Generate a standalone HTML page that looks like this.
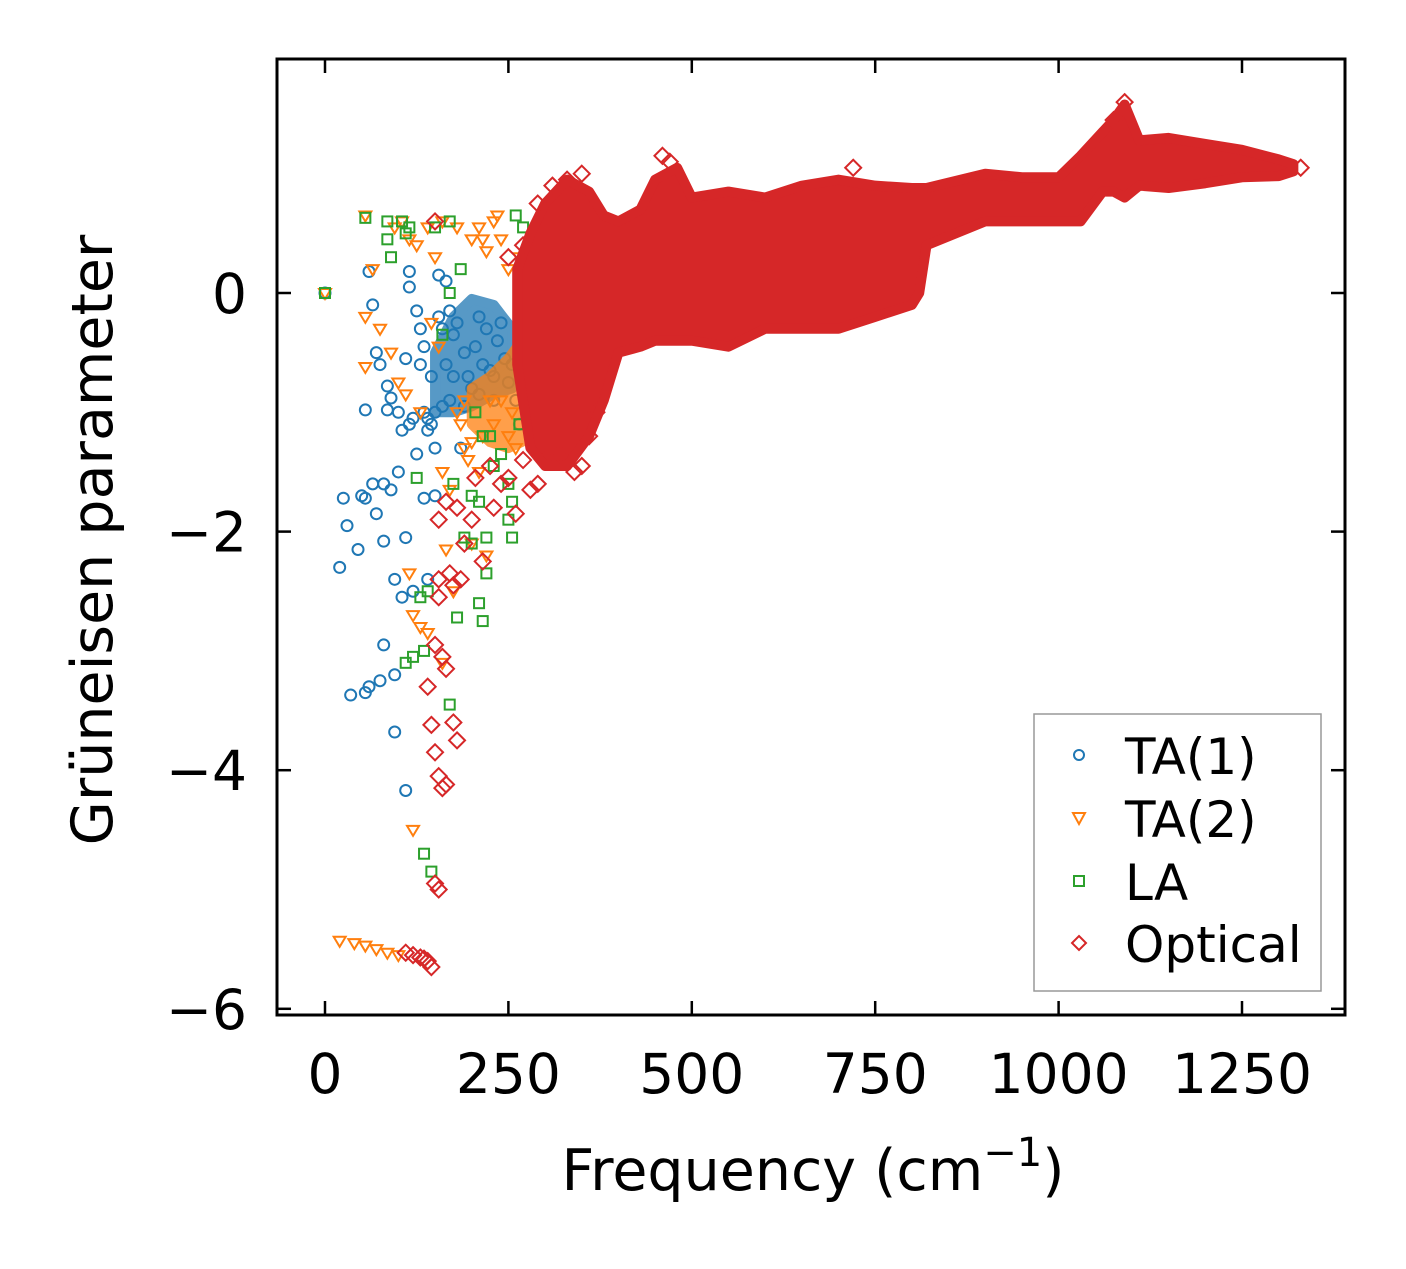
<!DOCTYPE html>
<html><head><meta charset="utf-8"><style>
html,body{margin:0;padding:0;background:#fff;}
svg text{font-family:"DejaVu Sans","Liberation Sans",sans-serif;fill:#000;}
</style></head><body>
<svg id="chart" width="1406" height="1264" viewBox="0 0 1406 1264">
<g id="marks"></g>
<rect x="277" y="59" width="1068" height="956" fill="none" stroke="#000" stroke-width="3"/>
<g id="axes"></g>
<text x="813" y="1190" font-size="57" text-anchor="middle">Frequency (cm<tspan dy="-24" font-size="40">−1</tspan><tspan dy="24">)</tspan></text>
<text transform="translate(112,540) rotate(-90)" font-size="57" text-anchor="middle">Grüneisen parameter</text>
<g>
<rect x="1034" y="714" width="287" height="277" fill="#fff" stroke="#999" stroke-width="1.5"/>
<circle cx="1079" cy="755" r="5" fill="none" stroke="#1f77b4" stroke-width="2"/>
<text x="1125" y="774" font-size="50">TA(1)</text>
<path d="M1073,813 L1085,813 L1079,824 Z" fill="none" stroke="#ff7f0e" stroke-width="2"/>
<text x="1125" y="837" font-size="50">TA(2)</text>
<rect x="1074" y="876" width="10" height="10" fill="none" stroke="#2ca02c" stroke-width="2"/>
<text x="1125" y="900" font-size="50">LA</text>
<path d="M1079,936 L1086,943 L1079,950 L1072,943 Z" fill="none" stroke="#d62728" stroke-width="2"/>
<text x="1125" y="962" font-size="50">Optical</text>
</g>
</svg>
<script>
const xTicks=[0,250,500,750,1000,1250];
const yTicks=[0,-2,-4,-6];
const yTickLabels=["0","−2","−4","−6"];
const ta1=[[0,0],[20,-2.3],[25,-1.72],[30,-1.95],[35,-3.37],[45,-2.15],[50,-1.7],[55,-3.35],[55,-1.72],[55,-0.98],[60,0.18],[60,-3.3],[65,-0.1],[65,-1.6],[70,-0.5],[70,-1.85],[75,-3.25],[75,-0.6],[80,-1.6],[80,-2.08],[80,-2.95],[85,-0.78],[85,-0.98],[90,-0.88],[90,-1.65],[95,-3.2],[95,-2.4],[95,-3.68],[100,-1.5],[100,-1.0],[105,-1.15],[105,-2.55],[110,-4.17],[110,-2.05],[110,-0.55],[115,0.18],[115,0.05],[115,-1.1],[120,-1.05],[120,-2.5],[125,-0.15],[125,-1.35],[130,-0.3],[130,-0.6],[135,-1.72],[135,-0.45],[140,-2.4],[140,-1.05],[145,-0.7],[150,-1.3],[150,-1.7],[155,0.15],[160,-0.95],[160,-0.3],[165,-0.6],[170,-0.15],[175,-0.7],[180,-0.25],[185,-1.3],[190,-0.5],[195,-0.7],[200,-0.8],[205,-0.45],[210,-0.2],[215,-0.6],[220,-0.3],[225,-0.65],[230,-0.7],[235,-0.4],[240,-0.25],[245,-0.55],[250,-0.75],[255,-0.6],[260,-0.9],[265,-1.1],[140,-1.15],[150,-1.0],[170,-0.9],[190,-0.95],[210,-0.85],[230,-0.9],[145,-1.1],[155,-0.2],[165,0.1],[135,-1.0],[175,-0.35]];
const ta1Band=[[150,-1.0,-0.5],[175,-1.0,-0.2],[200,-0.95,-0.05],[230,-0.85,-0.1],[255,-0.8,-0.3]];
const ta2=[[0,0],[20,-5.43],[40,-5.45],[55,-5.47],[70,-5.5],[85,-5.53],[100,-5.55],[55,0.65],[55,-0.2],[55,-0.62],[65,0.2],[75,-0.3],[90,-0.5],[95,0.55],[100,-0.75],[105,0.6],[110,-0.85],[115,-2.35],[115,0.45],[120,-4.5],[120,-2.7],[125,0.4],[130,-2.8],[130,-1.0],[140,-2.85],[140,0.55],[145,-0.25],[150,0.3],[155,-0.45],[160,-3.1],[160,-1.5],[160,0.6],[165,-2.15],[170,-1.65],[175,-2.5],[180,-1.0],[180,0.55],[190,-0.9],[190,-1.3],[195,-1.4],[200,-2.1],[200,0.45],[210,-1.5],[210,0.55],[220,-2.2],[220,0.35],[225,-0.9],[230,0.6],[230,-1.1],[240,-0.9],[240,0.45],[250,-1.2],[250,0.2],[255,-1.0],[260,-1.3],[265,0.3],[270,-0.6],[275,0.0],[280,-0.4],[235,0.65],[215,0.45],[185,-1.1],[200,-1.25],[215,-1.2]];
const ta2Band=[[200,-1.1,-0.8],[225,-1.25,-0.7],[250,-1.3,-0.55],[268,-1.25,-0.4]];
const la=[[0,0],[55,0.63],[85,0.6],[85,0.45],[90,0.3],[105,0.6],[110,0.5],[110,-3.1],[115,0.55],[120,-3.05],[125,-1.55],[130,-2.55],[135,-3.0],[135,-4.7],[140,-2.5],[145,-4.85],[150,0.55],[160,-0.35],[170,0.6],[170,-3.45],[170,0.0],[175,-1.6],[180,-2.72],[185,0.2],[190,-2.05],[200,-1.7],[200,-2.1],[205,-1.0],[210,-2.6],[210,-1.75],[215,-2.75],[215,-1.2],[220,-2.35],[220,-2.05],[225,-1.2],[230,-1.45],[240,-1.35],[250,-1.9],[250,-1.6],[255,-2.05],[255,-1.75],[260,0.65],[265,-1.1],[270,0.55],[270,0.25],[275,-0.2],[280,-0.55],[285,-0.7],[290,-0.3],[290,0.05],[295,-0.5],[285,-0.1],[280,-0.85]];
const laBand=[[278,-0.9,0.05],[287,-0.85,0.2],[295,-0.8,0.0]];
const optical=[[150,0.6],[155,-5.0],[150,-4.95],[145,-5.65],[140,-5.6],[135,-5.58],[130,-5.57],[120,-5.55],[110,-5.53],[140,-3.3],[145,-3.62],[150,-3.85],[155,-4.05],[160,-4.15],[165,-4.12],[175,-3.6],[180,-3.75],[155,-2.4],[150,-2.95],[155,-2.55],[160,-3.05],[165,-3.15],[170,-2.35],[175,-2.45],[180,-1.8],[155,-1.9],[165,-1.75],[185,-2.4],[190,-2.1],[200,-1.9],[205,-1.55],[215,-2.25],[225,-1.45],[230,-1.8],[240,-1.6],[250,-1.55],[260,-1.85],[270,-1.4],[280,-1.65],[290,-1.6],[300,-1.4],[320,-1.35],[340,-1.5],[350,-1.45],[360,-1.2],[370,-1.0],[250,0.3],[270,0.4],[290,0.75],[310,0.9],[330,0.95],[350,1.0],[470,1.1],[460,1.15],[720,1.05],[1090,1.6],[1075,1.45],[1330,1.05]];
const opticalBand=[[262,-0.6,0.2],[280,-1.3,0.5],[300,-1.45,0.75],[330,-1.45,0.95],[360,-1.2,0.85],[380,-0.9,0.65],[400,-0.5,0.6],[430,-0.45,0.7],[450,-0.4,0.95],[480,-0.4,1.05],[500,-0.4,0.8],[550,-0.45,0.85],[600,-0.3,0.8],[650,-0.3,0.9],[700,-0.3,0.95],[750,-0.2,0.9],[800,-0.1,0.88],[810,0.0,0.88],[820,0.4,0.88],[900,0.6,1.0],[950,0.6,0.97],[1000,0.6,0.97],[1030,0.6,1.15],[1060,0.85,1.35],[1075,0.85,1.45],[1090,0.8,1.58],[1110,0.9,1.28],[1150,0.88,1.3],[1200,0.92,1.25],[1250,0.97,1.2],[1300,0.98,1.12],[1320,1.02,1.08]];

const X=v=>325+v*0.7336;
const Y=v=>293-v*119.3;
const NS="http://www.w3.org/2000/svg";
const marks=document.getElementById('marks');
const axes=document.getElementById('axes');
function mk(tag,attrs,parent){const e=document.createElementNS(NS,tag);for(const k in attrs)e.setAttribute(k,attrs[k]);parent.appendChild(e);return e;}
function band(data,color,name,op){
  const top=data.map(d=>X(d[0])+','+Y(d[2])).join(' ');
  const bot=data.slice().reverse().map(d=>X(d[0])+','+Y(d[1])).join(' ');
  const p=mk('polygon',{points:top+' '+bot,fill:color,stroke:color,'stroke-width':10,'stroke-linejoin':'round',opacity:op},marks);
  
  
}
function pts(data,shape,color,name){
  data.forEach(d=>{
    const x=X(d[0]),y=Y(d[1]);let e;
    if(shape==='c')e=mk('circle',{cx:x,cy:y,r:5.5,fill:'none',stroke:color,'stroke-width':2},marks);
    else if(shape==='t')e=mk('path',{d:`M${x-6},${y-4} L${x+6},${y-4} L${x},${y+6} Z`,fill:'none',stroke:color,'stroke-width':2},marks);
    else if(shape==='s')e=mk('rect',{x:x-5,y:y-5,width:10,height:10,fill:'none',stroke:color,'stroke-width':2},marks);
    else e=mk('path',{d:`M${x},${y-8} L${x+8},${y} L${x},${y+8} L${x-8},${y} Z`,fill:'none',stroke:color,'stroke-width':2},marks);
    
    
  });
}
band(ta1Band,'#1f77b4','ta1-dense-region',0.75);
pts(ta1,'c','#1f77b4','ta1-point');
band(ta2Band,'#ff7f0e','ta2-dense-region',0.75);
pts(ta2,'t','#ff7f0e','ta2-point');
band(laBand,'#2ca02c','la-dense-region',0.8);
pts(la,'s','#2ca02c','la-point');
band(opticalBand,'#d62728','optical-dense-region',1);
pts(optical,'d','#d62728','optical-point');

xTicks.forEach(v=>{
  const x=X(v);
  const t1=mk('line',{x1:x,x2:x,y1:1015,y2:1001,stroke:'#000','stroke-width':2.5},axes);
  
  
  const t2=mk('line',{x1:x,x2:x,y1:59,y2:73,stroke:'#000','stroke-width':2.5},axes);
  
  
  const lb=mk('text',{x:x,y:1093,'font-size':55,'text-anchor':'middle'},axes);
  lb.textContent=String(v);
  
  
});
yTicks.forEach((v,i)=>{
  const y=Y(v);
  const t1=mk('line',{x1:277,x2:291,y1:y,y2:y,stroke:'#000','stroke-width':2.5},axes);
  
  
  const t2=mk('line',{x1:1331,x2:1345,y1:y,y2:y,stroke:'#000','stroke-width':2.5},axes);
  
  
  const lb=mk('text',{x:247,y:y+20,'font-size':55,'text-anchor':'end'},axes);
  lb.textContent=yTickLabels[i];
  
  
});
</script>
</body></html>
